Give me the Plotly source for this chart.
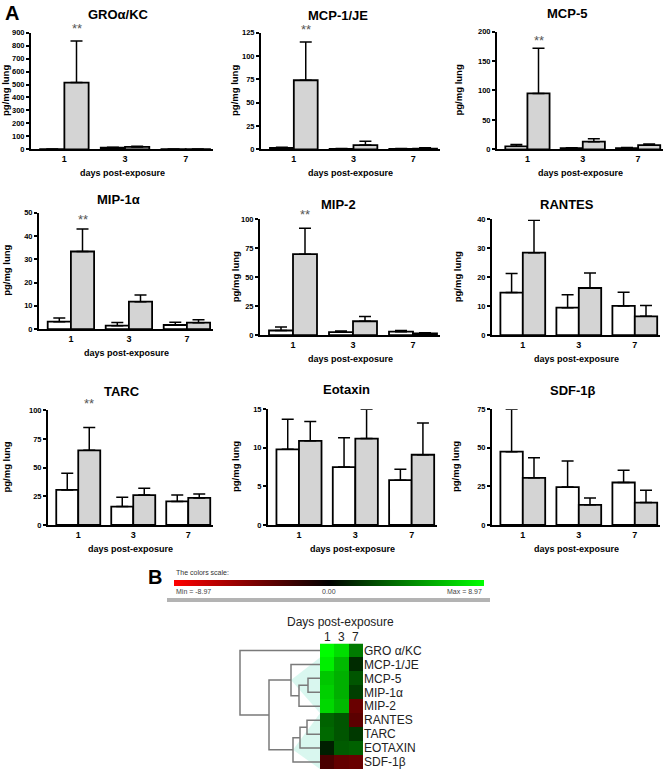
import plotly.graph_objects as go

W, H = 664, 776

# ---------------- Panel A data ----------------
days = ["1", "3", "7"]
panel_titles = ["GROα/KC", "MCP-1/JE", "MCP-5", "MIP-1α", "MIP-2", "RANTES", "TARC", "Eotaxin", "SDF-1β"]
y_max = [900, 125, 200, 50, 100, 40, 100, 15, 75]
y_dtick = [100, 25, 50, 10, 25, 10, 25, 5, 25]

control_mean = [
    [2, 12, 1], [1.5, 0.5, 0.5], [5, 2, 2],
    [3.2, 1.5, 1.8], [4, 2.5, 3], [14.7, 9.5, 10.1],
    [30.5, 16, 20.5], [9.8, 7.5, 5.8], [47.5, 24.5, 27.5],
]
control_sem = [
    [1, 4, 0.5], [0.8, 0.3, 0.3], [3, 0.8, 1],
    [1.6, 1.4, 1.2], [3, 1, 1], [6.6, 4.5, 4.7],
    [14.5, 8, 5.5], [3.9, 3.8, 1.4], [27.5, 17, 8],
]
exposed_mean = [
    [515, 18, 2], [74, 4.5, 0.8], [95, 13, 7],
    [33.3, 11.8, 2.8], [70, 12, 1.5], [28.5, 16.3, 6.5],
    [65, 26, 23.5], [10.9, 11.2, 9.1], [30.5, 13, 14.5],
]
exposed_sem = [
    [320, 6, 1], [41, 4, 0.8], [77, 5, 2],
    [9.7, 2.9, 1.2], [22.5, 4, 0.5], [11.2, 5.2, 3.7],
    [20, 6, 3.5], [2.5, 3.8, 4.1], [13, 4.5, 8],
]
significant = [True, True, True, True, True, False, True, False, False]
star_y = [930, 128, 185, 47, 104, None, 106, None, None]

# ---------------- Panel B data ----------------
heat_rows = ["GRO α/KC", "MCP-1/JE", "MCP-5", "MIP-1α", "MIP-2", "RANTES", "TARC", "EOTAXIN", "SDF-1β"]
heat_cols = ["1", "3", "7"]
heat_z = [
    [8.9, 7.8, 4.3],
    [8.4, 6.5, 1.5],
    [7.0, 6.2, 3.0],
    [7.3, 6.2, 2.2],
    [7.6, 6.5, -3.7],
    [3.5, 3.0, -3.2],
    [3.7, 3.0, 2.0],
    [1.1, 3.2, 3.4],
    [-2.6, -3.5, -3.7],
]
z_min, z_max = -8.97, 8.97
# dendrogram merges: (child a, child b, height); leaves are 0..8, new nodes 9..
merges = [
    (2, 3, 0.12), (9, 4, 0.21), (1, 10, 0.29),
    (5, 6, 0.13), (12, 7, 0.20), (13, 8, 0.27),
    (11, 14, 0.51), (0, 15, 0.80),
]
highlight_nodes = [11, 14]

# ---------------- layout helpers ----------------
def px(x):
    return x / W

def py(y):
    return 1 - y / H

FONT = "Liberation Sans, Arial, sans-serif"

# panel boxes in pixels: x0, x1, ytop, ybottom
boxes = [
    (31, 213, 29, 147), (261, 440, 29, 147), (497, 663, 28, 147),
    (39, 213, 211, 329), (260, 440, 218, 335), (492, 660, 218, 335),
    (48, 213, 411, 527), (268, 437, 410, 527), (492, 660, 410, 527),
]
title_pos = [(118, 11), (338, 12), (567, 10), (118, 198), (338, 203), (567, 203),
             (122, 392), (347, 390), (573, 391)]
ytitle_x = [6, 235, 458, 7, 235, 457, 7, 235, 455]

fig = go.Figure()
layout = dict(
    width=W, height=H, margin=dict(l=0, r=0, t=0, b=0, pad=0),
    paper_bgcolor="white", plot_bgcolor="white",
    showlegend=False, barmode="group", bargap=0.2, bargroupgap=0,
    font=dict(family=FONT, color="black"),
)
annotations = []
shapes = []

for i in range(9):
    n = i + 1
    xa = "x" if n == 1 else f"x{n}"
    ya = "y" if n == 1 else f"y{n}"
    x0, x1, yt, yb = boxes[i]
    layout[f"xaxis{'' if n == 1 else n}"] = dict(
        domain=[px(x0), px(x1)], anchor=ya, range=[-0.55, 2.45],
        tickvals=[0, 1, 2], ticktext=days, ticks="", showline=True,
        linecolor="black", linewidth=2, showgrid=False, zeroline=False,
        tickfont=dict(size=9, family=FONT, weight="bold"), fixedrange=True,
    )
    layout[f"yaxis{'' if n == 1 else n}"] = dict(
        domain=[py(yb), py(yt)], anchor=xa, range=[0, y_max[i]],
        dtick=y_dtick[i], tick0=0, ticks="outside", ticklen=3, tickwidth=1.5,
        tickcolor="black", showline=True, linecolor="black", linewidth=2,
        showgrid=False, zeroline=False,
        tickfont=dict(size=7.5, family=FONT, weight="bold"), fixedrange=True,
    )
    fig.add_trace(go.Bar(
        x=[0, 1, 2], y=control_mean[i], xaxis=xa, yaxis=ya,
        marker=dict(color="white", line=dict(color="black", width=1.8)),
        error_y=dict(type="data", symmetric=False, array=control_sem[i],
                     arrayminus=[0, 0, 0], color="black", thickness=1.5, width=6),
    ))
    fig.add_trace(go.Bar(
        x=[0, 1, 2], y=exposed_mean[i], xaxis=xa, yaxis=ya,
        marker=dict(color="#d4d4d4", line=dict(color="black", width=1.8)),
        error_y=dict(type="data", symmetric=False, array=exposed_sem[i],
                     arrayminus=[0, 0, 0], color="black", thickness=1.5, width=6),
    ))
    tx, ty = title_pos[i]
    annotations.append(dict(x=px(tx), y=py(ty), xref="paper", yref="paper",
                            text=panel_titles[i], showarrow=False,
                            font=dict(size=13, family=FONT, weight="bold"),
                            xanchor="center", yanchor="middle"))
    annotations.append(dict(x=px(ytitle_x[i]), y=py((yt + yb) / 2), xref="paper", yref="paper",
                            text="pg/mg lung", textangle=-90, showarrow=False,
                            font=dict(size=9.5, family=FONT, weight="bold"),
                            xanchor="center", yanchor="middle"))
    annotations.append(dict(x=px((x0 + x1) / 2), y=py(yb + 24), xref="paper", yref="paper",
                            text="days post-exposure", showarrow=False,
                            font=dict(size=9, family=FONT, weight="bold"),
                            xanchor="center", yanchor="middle"))
    if significant[i]:
        annotations.append(dict(x=0.2, y=star_y[i] / y_max[i], xref=xa, yref=f"{ya} domain",
                                text="**", showarrow=False,
                                font=dict(size=13, family=FONT, color="#555"),
                                xanchor="center", yanchor="middle"))

annotations.append(dict(x=px(3), y=py(9), xref="paper", yref="paper", text="A",
                        showarrow=False, font=dict(size=20, family=FONT, weight="bold"),
                        xanchor="left", yanchor="middle"))
annotations.append(dict(x=px(146), y=py(580), xref="paper", yref="paper", text="B",
                        showarrow=False, font=dict(size=20, family=FONT, weight="bold"),
                        xanchor="left", yanchor="middle"))

# ---------------- Panel B: heatmap + dendrogram ----------------
hx0, hx1, hyt, hyb = 320, 363, 647, 774
layout["xaxis10"] = dict(domain=[px(hx0), px(hx1)], anchor="y10",
                         showticklabels=False, ticks="",
                         showline=False, showgrid=False, zeroline=False,
                         fixedrange=True, range=[-0.5, 2.5])
layout["yaxis10"] = dict(domain=[py(hyb), py(hyt)], anchor="x10", side="right",
                         tickvals=list(range(9)), ticktext=heat_rows, ticks="",
                         range=[8.5, -0.5], showline=False, showgrid=False, zeroline=False,
                         tickfont=dict(size=12, family=FONT, color="#222"), fixedrange=True)
layout["xaxis11"] = dict(domain=[px(238), px(hx0)], anchor="y10", range=[0.82, 0],
                         visible=False, fixedrange=True)

fig.add_trace(go.Heatmap(
    z=heat_z, x=[0, 1, 2], y=list(range(9)), xaxis="x10", yaxis="y10",
    zmin=z_min, zmax=z_max,
    colorscale=[[0, "#ff0000"], [0.5, "#000000"], [1, "#00ff00"]],
    showscale=True,
    colorbar=dict(orientation="h", x=px(329), xanchor="center", y=py(585.5),
                  yanchor="middle", len=310, lenmode="pixels", thickness=6,
                  outlinewidth=0, showticklabels=False, ticks="", xpad=0, ypad=0),
))

# dendrogram geometry from merges
node_y = {k: float(k) for k in range(9)}
node_h = {k: 0.0 for k in range(9)}
node_leaves = {k: [k] for k in range(9)}
dx, dy = [], []
for j, (a, b, h) in enumerate(merges):
    nid = 9 + j
    node_y[nid] = (node_y[a] + node_y[b]) / 2
    node_h[nid] = h
    node_leaves[nid] = node_leaves[a] + node_leaves[b]
    dx += [node_h[a], h, h, node_h[b], None]
    dy += [node_y[a], node_y[a], node_y[b], node_y[b], None]

for nid in highlight_nodes:
    lv = node_leaves[nid]
    fig.add_trace(go.Scatter(
        x=[node_h[nid], 0, 0, node_h[nid]],
        y=[node_y[nid], min(lv) - 0.5, max(lv) + 0.5, node_y[nid]],
        xaxis="x11", yaxis="y10", mode="lines", fill="toself",
        fillcolor="rgba(170,238,220,0.45)", line=dict(width=0), hoverinfo="skip",
    ))

fig.add_trace(go.Scatter(x=dx, y=dy, xaxis="x11", yaxis="y10", mode="lines",
                         line=dict(color="#7a7a7a", width=1.5), hoverinfo="skip"))

# column labels above heatmap
for k, lab in enumerate(heat_cols):
    annotations.append(dict(x=k, y=1, xref="x10", yref="y10 domain", text=lab,
                            showarrow=False, yshift=-3,
                            font=dict(size=12, family=FONT, color="#222"),
                            xanchor="center", yanchor="bottom"))

annotations.append(dict(x=px(340), y=py(634), xref="paper", yref="paper",
                        text="Days post-exposure", showarrow=False,
                        font=dict(size=12, family=FONT, color="#222"),
                        xanchor="center", yanchor="bottom"))
annotations.append(dict(x=px(174), y=py(575), xref="paper", yref="paper",
                        text="The colors scale:", showarrow=False,
                        font=dict(size=7, family=FONT, color="#333"),
                        xanchor="left", yanchor="middle"))
annotations.append(dict(x=px(174), y=py(594), xref="paper", yref="paper",
                        text=f"Min = {z_min:.2f}", showarrow=False,
                        font=dict(size=7, family=FONT, color="#444"),
                        xanchor="left", yanchor="middle"))
annotations.append(dict(x=px(329), y=py(594), xref="paper", yref="paper",
                        text="0.00", showarrow=False,
                        font=dict(size=7, family=FONT, color="#444"),
                        xanchor="center", yanchor="middle"))
annotations.append(dict(x=px(484), y=py(594), xref="paper", yref="paper",
                        text=f"Max = {z_max:.2f}", showarrow=False,
                        font=dict(size=7, family=FONT, color="#444"),
                        xanchor="right", yanchor="middle"))
shapes.append(dict(type="line", xref="paper", yref="paper", x0=px(167), x1=px(490),
                   y0=py(603), y1=py(603), line=dict(color="#b3b3b3", width=4)))

layout["annotations"] = annotations
layout["shapes"] = shapes
fig.update_layout(**layout)

fig.write_html("out.html", config={"displayModeBar": False},
               post_script="document.body.style.margin='0';")
